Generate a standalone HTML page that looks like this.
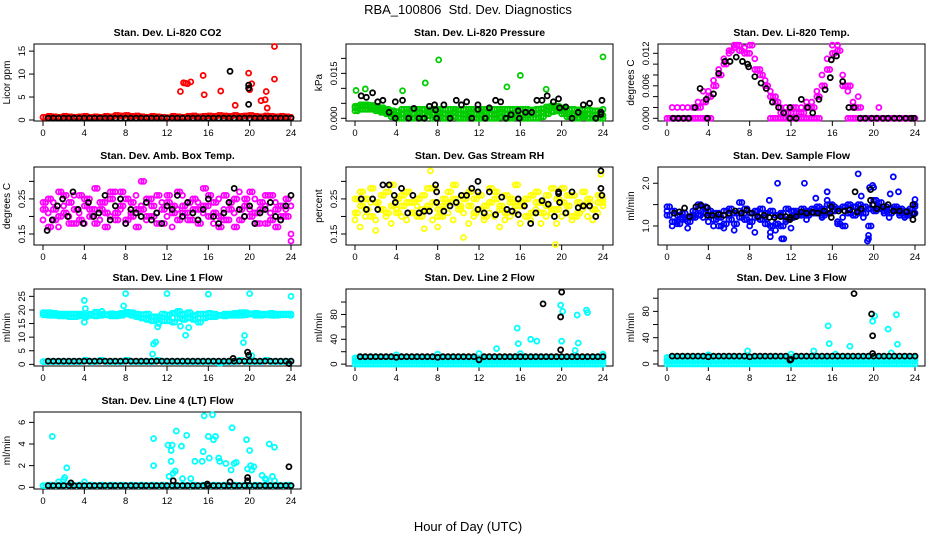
<!DOCTYPE html>
<html><head><meta charset="utf-8"><style>
html,body{margin:0;padding:0;background:#fff;}
svg{display:block;font-family:"Liberation Sans",Arial,sans-serif;}
</style></head><body>
<svg id="chart" width="936" height="540" viewBox="0 0 936 540" xmlns="http://www.w3.org/2000/svg">
<rect x="0" y="0" width="936" height="540" fill="#fff"/>
<text x="468" y="14" text-anchor="middle" font-size="13" style="white-space:pre">RBA_100806  Std. Dev. Diagnostics</text>
<text x="468" y="531" text-anchor="middle" font-size="13">Hour of Day (UTC)</text>
</svg>
<script>
const hours=[0,0.5,1,1.5,2,2.5,3,3.5,4,4.5,5,5.5,6,6.5,7,7.5,8,8.5,9,9.5,10,10.5,11,11.5,12,12.5,13,13.5,14,14.5,15,15.5,16,16.5,17,17.5,18,18.5,19,19.5,20,20.5,21,21.5,22,22.5,23,23.5,24];
const hoursB=[0.25,0.75,1.25,1.75,2.25,2.75,3.25,3.75,4.25,4.75,5.25,5.75,6.25,6.75,7.25,7.75,8.25,8.75,9.25,9.75,10.25,10.75,11.25,11.75,12.25,12.75,13.25,13.75,14.25,14.75,15.25,15.75,16.25,16.75,17.25,17.75,18.25,18.75,19.25,19.75,20.25,20.75,21.25,21.75,22.25,22.75,23.25,23.75];
const xTicks=[0,4,8,12,16,20,24];

// CO2
const co2Red=[0.6,0.8,0.7,0.6,0.8,0.7,0.6,0.7,0.8,0.6,0.7,0.6,0.8,0.7,1.0,0.9,1.0,0.8,0.9,0.7,0.6,0.8,0.7,0.6,0.5,0.8,0.7,0.6,0.8,0.9,0.7,0.8,0.9,0.8,1.0,0.9,0.8,1.0,0.8,0.9,1.0,0.8,0.7,0.9,0.8,0.7,0.8,0.7,0.6];
const co2Black=[null,0.4,0.4,0.4,0.4,0.4,0.4,0.4,0.4,0.4,0.4,0.4,0.4,0.4,0.4,0.4,0.4,0.4,0.4,0.4,0.4,0.4,0.4,0.4,0.4,0.4,0.4,0.4,0.4,0.4,0.4,0.4,0.4,0.4,0.4,0.4,0.4,0.4,0.4,0.4,0.4,0.4,0.4,0.4,0.4,0.4,0.4,0.4,0.4];
const co2RedOut=[[13.3,6.2],[13.6,8.1],[13.8,8],[14.0,7.9],[14.3,8.3],[15.5,9.7],[15.6,5.5],[17.2,6.3],[18.6,3.2],[19.9,10.2],[20.0,6.6],[20.2,7.9],[21.1,4.2],[21.5,4.4],[21.6,6.2],[21.7,2.6],[22.4,16],[22.4,8.9]];
const co2BlackOut=[[18.1,10.6],[19.9,7.6],[19.9,6.9],[19.9,3.4]];

// Pressure
const presUpper=[0.004,0.0045,0.0045,0.0043,0.004,0.0035,0.003,0.0025,0.0022,0.003,0.003,0.003,0.003,0.003,0.0028,0.003,0.003,0.003,0.003,0.003,0.0028,0.003,0.003,0.003,0.003,0.003,0.003,0.003,0.003,0.003,0.003,0.003,0.003,0.003,0.0028,0.003,0.0032,0.0038,0.0042,0.004,0.0035,0.003,0.003,0.0028,0.003,0.0028,0.0025,0.0025,0.003];
const presMid=[0.0035,0.004,0.004,0.0037,0.0033,0.0028,0.0022,0.0015,0.001,0.0015,0.002,0.0015,0.002,0.0015,0.002,0.0015,0.002,0.0015,0.001,0.002,0.0015,0.001,0.002,0.0015,0.001,0.002,0.0015,0.001,0.002,0.0015,0.001,0.002,0.0015,0.001,0.0015,0.0015,0.002,0.0028,0.0035,0.0033,0.0025,0.0015,0.001,0.0015,0.001,0.0015,0.001,0.0012,0.001];
const presLower=[0.0025,0.003,0.003,0.003,0.0025,0.002,0.0015,0.0005,0,0,0.0005,0,0.0005,0,0.0008,0,0.0005,0,0,0.0005,0,0,0.0005,0,0,0.0005,0,0,0.0003,0,0,0.0005,0,0,0,0,0.0005,0.0015,0.0022,0.0025,0.0015,0.0005,0,0,0.0005,0,0,0,0];
const presGreenOut=[[8.1,0.0195],[6.8,0.0118],[4.6,0.0092],[16,0.0143],[14.7,0.0105],[24,0.0205],[18.5,0.0097],[0.1,0.0093],[1,0.0098]];
const presBlack=[[0.6,0.0075],[1.1,0.007],[1.7,0.0085],[2.2,0.0055],[2.7,0.006],[3.3,0.002],[3.9,0.0055],[3.9,0],[4.6,0.006],[5.2,0],[5.7,0.0033],[6.2,0],[6.7,0],[7.2,0.004],[7.7,0.0045],[7.8,0.0028],[7.9,0],[8.6,0.0045],[9.2,0],[9.8,0.006],[10.3,0.0045],[10.8,0.0055],[11.3,0],[11.9,0.0045],[11.9,0.003],[12.6,0],[13,0.0035],[13.6,0.006],[14.1,0.0055],[14.6,0],[15.1,0.0012],[15.8,0.0025],[15.9,0],[16.5,0.002],[17.1,0.002],[17.6,0.006],[18.1,0.006],[18.6,0.0075],[19.2,0.0055],[19.7,0.0065],[19.8,0.0035],[20.4,0.0038],[21,0],[21.6,0.002],[22.1,0.0045],[22.7,0.005],[23.3,0],[23.8,0.0013],[23.8,0.002],[23.9,0.006]];

// Li-820 Temp
const tempMain=[null,0.002,0.002,0.002,0.002,null,0.003,0.005,0.005,0.007,0.009,0.011,0.012,0.013,0.0135,0.013,0.012,0.011,0.009,0.007,0.005,0.004,0.002,0.002,0.001,0.002,0.002,0.003,0.003,0.005,0.008,0.011,0.0135,0.0135,0.008,0.005,0.003,0.004,null,null,null,0.002,null,null,null,null,null,null,null];
const tempSpread=[null,null,null,null,null,0.002,0.002,0.003,0.004,0.006,0.008,0.01,0.0125,0.0135,0.0125,0.012,0.0135,0.009,0.008,0.006,0.004,0.003,0.001,0.001,0.002,0.001,0.001,0.002,0.002,0.004,0.006,0.009,0.012,0.0125,0.006,0.006,0.002,0.002,null,null,null,null,null,null,null,null,null,null,null];
const tempZero=[0,0,0,0,0,0,0,0,0,null,null,null,null,null,null,null,null,null,null,null,0,0,0,0,0,0,0,0,0,0,null,null,null,null,null,0,0,0,0,0,0,0,0,0,0,0,0,0,0];
const tempBlack=[[0.6,0],[1.1,0],[1.6,0],[2.1,0],[2.7,0.002],[3.2,0.0055],[3.8,0.0035],[3.9,0],[4.5,0.0045],[5.0,0.0083],[5.6,0.0105],[6.1,0.0105],[6.7,0.0113],[7.3,0.0105],[7.8,0.01],[7.9,0.0095],[8.5,0.0077],[9.1,0.0065],[9.6,0.0055],[10.2,0.003],[10.8,0.002],[11.3,0.001],[11.9,0.002],[11.9,0],[12.5,0],[13.0,0.0035],[13.6,0.002],[14.1,0.001],[14.7,0.0035],[15.3,0.0053],[15.8,0.0075],[15.9,0.0108],[16.4,0.0115],[17.0,0.0068],[17.6,0.002],[18.1,0.002],[18.7,0],[19.2,0],[19.8,0],[20.3,0],[20.9,0],[21.4,0],[22.0,0],[22.5,0],[23.1,0],[23.6,0],[23.9,0]];

// Amb box temp
const ambA=[.22,.25,.19,.27,.21,.24,.18,.26,.23,.20,.28,.22,.17,.25,.21,.27,.19,.24,.22,.30,.20,.23,.26,.18,.24,.21,.27,.23,.19,.25,.22,.28,.20,.24,.17,.26,.22,.25,.19,.23,.27,.21,.24,.18,.26,.22,.20,.25,.23];
const ambB=[.19,.21,.24,.17,.23,.20,.26,.21,.18,.25,.22,.19,.24,.20,.27,.22,.18,.21,.26,.23,.19,.25,.21,.24,.20,.17,.22,.26,.21,.19,.24,.21,.23,.18,.25,.22,.19,.21,.27,.20,.22,.25,.18,.23,.21,.24,.19,.22,.15];
const ambC=[.24,.17,.22,.20,.26,.18,.22,.19,.25,.22,.18,.24,.21,.27,.19,.23,.25,.20,.17,.22,.25,.20,.18,.22,.26,.23,.19,.21,.24,.22,.18,.23,.26,.21,.20,.19,.24,.17,.22,.25,.20,.18,.22,.26,.19,.17,.23,.20,.13];
const ambBlack=[[0.4,0.16],[0.9,0.19],[1.4,0.23],[1.9,0.25],[2.4,0.2],[2.9,0.27],[3.4,0.22],[3.9,0.18],[4.4,0.24],[4.9,0.2],[5.4,0.21],[6.0,0.26],[6.5,0.19],[7,0.23],[7.5,0.25],[8,0.18],[8.5,0.22],[9,0.21],[9.5,0.2],[10,0.24],[10.5,0.19],[11,0.21],[11.5,0.18],[12,0.23],[12.5,0.22],[13,0.26],[13.5,0.2],[14,0.24],[14.5,0.21],[15,0.19],[15.5,0.22],[16,0.25],[16.5,0.2],[17,0.18],[17.5,0.21],[18,0.24],[18.5,0.28],[19,0.22],[19.5,0.2],[20,0.23],[20.5,0.18],[21,0.21],[21.5,0.22],[22,0.24],[22.5,0.2],[23,0.19],[23.5,0.23],[24,0.26]];

// Gas stream RH
const rhA=[.25,.27,.22,.28,.24,.26,.21,.29,.25,.23,.27,.24,.20,.26,.23,.28,.22,.25,.24,.29,.23,.25,.27,.21,.26,.23,.28,.25,.22,.26,.24,.29,.23,.25,.21,.27,.24,.26,.22,.25,.28,.23,.26,.21,.27,.24,.22,.26,.25];
const rhB=[.21,.23,.25,.20,.24,.22,.27,.23,.21,.26,.24,.21,.25,.22,.28,.24,.20,.23,.27,.25,.22,.26,.23,.25,.22,.20,.24,.27,.23,.21,.25,.23,.24,.20,.26,.24,.21,.23,.28,.22,.24,.26,.20,.24,.23,.25,.22,.24,.24];
const rhC=[.19,.17,.2,.24,.19,.22,.2,.18,.22,.2,.19,.21,.23,.2,.22,.19,.17,.2,.21,.19,.23,.21,.18,.2,.22,.19,.21,.2,.23,.19,.2,.21,.18,.2,.19,.22,.18,.2,.21,.18,.2,.21,.19,.2,.22,.2,.19,.21,.23];
const rhOut=[[7.3,0.33],[10.5,0.14],[19.4,0.12],[23.8,0.32],[2,0.16],[6.7,0.165],[14,0.17]];
const rhBlack=[[0.6,0.25],[1.1,0.22],[1.7,0.25],[2.2,0.22],[2.7,0.29],[3.3,0.29],[3.8,0.26],[3.9,0.24],[4.5,0.28],[5.1,0.21],[5.6,0.26],[6.2,0.21],[6.7,0.215],[7.2,0.215],[7.8,0.29],[7.9,0.27],[7.9,0.24],[8.6,0.215],[9.2,0.23],[9.8,0.24],[10.3,0.26],[10.8,0.26],[11.3,0.28],[11.9,0.3],[11.9,0.27],[11.9,0.22],[12.5,0.21],[13,0.27],[13.6,0.205],[14.2,0.255],[14.7,0.22],[15.2,0.215],[15.8,0.25],[15.8,0.205],[16.4,0.23],[17,0.18],[17.5,0.21],[18.1,0.245],[18.7,0.235],[19.3,0.2],[19.7,0.265],[19.7,0.27],[19.8,0.24],[20.4,0.21],[21,0.27],[21.6,0.225],[22.1,0.23],[22.7,0.23],[23.3,0.2],[23.8,0.33],[23.8,0.28],[23.9,0.26]];

// Sample flow
const sfA=[1.45,1.35,1.25,1.3,1.2,1.35,1.5,1.45,1.35,1.3,1.2,1.35,1.4,1.3,1.55,1.4,1.3,1.35,1.4,1.3,1.35,1.25,1.3,1.4,1.35,1.3,1.4,1.35,1.4,1.45,1.4,1.5,1.45,1.4,1.45,1.5,1.45,1.5,1.45,1.4,1.6,1.55,1.45,1.4,1.45,1.4,1.35,1.4,1.45];
const sfB=[1.25,1.1,1.05,1.15,1.1,1.2,1.25,1.3,1.25,1.15,1.0,1.05,1.15,1.05,1.2,1.15,1.1,1.2,1.15,1.05,1.0,1.05,1.0,1.15,1.2,1.25,1.3,1.25,1.3,1.3,1.25,1.3,1.35,1.05,1.0,1.3,1.25,1.35,1.3,1.0,1.35,1.4,1.35,1.3,1.35,1.3,1.25,1.3,1.3];
const sfC=[1.35,1.0,1.1,1.2,0.95,1.25,1.4,1.2,1.1,1.0,1.3,0.95,1.25,0.9,1.35,1.3,1.0,0.85,1.3,1.2,0.85,0.9,1.25,1.1,0.95,1.35,1.25,1.15,1.3,1.35,1.2,1.6,1.5,1.1,1.2,1.4,1.35,1.3,1.2,0.7,1.5,1.45,1.3,1.2,1.4,1.25,1.2,1.25,1.5];
const sfOut=[[10.7,2.0],[13.3,2.0],[15.5,1.8],[14.4,1.65],[18.5,2.22],[18.8,1.7],[19.6,1.9],[19.9,1.95],[20,1.9],[21.9,2.15],[21.6,1.75],[22.4,1.8],[19.4,0.65],[19.5,0.78],[11.1,0.7],[11.3,0.7],[10.0,0.75],[9.9,1.6],[24,1.62]];
const sfBlack=[[0.7,1.3],[1.2,1.33],[1.7,1.42],[2.2,1.22],[2.8,1.45],[3.3,1.48],[3.9,1.43],[3.9,1.25],[4.4,1.25],[5,1.27],[5.5,1.25],[6,1.3],[6.6,1.35],[7.2,1.3],[7.7,1.37],[8.2,1.3],[8.8,1.22],[9.4,1.25],[9.9,1.2],[10.4,1.2],[11,1.22],[11.5,1.22],[11.9,1.2],[11.9,1.15],[12.5,1.22],[13,1.33],[13.5,1.3],[14.1,1.32],[14.6,1.3],[15.2,1.35],[15.8,1.3],[15.9,1.45],[15.9,1.2],[16.6,1.35],[17.2,1.35],[17.7,1.38],[18.2,1.8],[18.4,1.33],[18.8,1.4],[19.7,1.85],[19.7,1.6],[19.9,1.5],[20.3,1.4],[20.9,1.45],[21.4,1.5],[21.9,1.35],[22.5,1.35],[23.2,1.33],[23.8,1.5],[23.8,1.15],[23.9,1.28]];

// Line 1
const l1A=[19,19,18.8,18.5,18.5,18.5,18.5,18.5,18,18.5,19.2,18.5,18.3,18.6,18.5,18.8,19.2,19,18.5,18.3,18.5,17.5,17.5,18.5,18.2,18.8,19.5,18.5,19,18,18.5,18.5,18.8,18.5,18,18.5,18.5,18.8,19,19,18.5,18.8,18.5,18.5,18.8,18.5,18.5,18.5,18.5];
const l1B=[18.2,18,18,17.8,17.8,17.5,17.5,17.8,17.5,18,17.8,18,18.2,17.8,17.8,18,18.5,18,17.5,17,16.5,16,16.5,16,16,15.5,17,16.5,17,16.5,15.5,17,17.5,17.5,18,17.8,18,18,18,18.2,18.5,18,18,18.2,18,18,18.2,18.2,18];
const l1Low=[1,1,1,1,1,1,1,1,1.5,1,1,1.5,1,1,1,1,1.5,1,1,1,1,1,1.5,1,1,1,1,1,1,1,1,1,1,1,0.5,1,1,1,1.5,1,1,1,1,1.5,1,1,1,1,1];
const l1Black=[null,1.2,1.2,1.2,1.2,1.2,1.2,1.2,1.2,1.2,1.2,1.2,1.2,1.2,1.2,1.2,1.2,1.2,1.2,1.2,1.2,1.2,1.2,1.2,1.2,1.2,1.2,1.2,1.2,1.2,1.2,1.2,1.2,1.2,1.2,1.2,1.2,1.2,1.2,1.2,1.2,1.2,1.2,1.2,1.2,1.2,1.2,1.2,1.2];
const l1Out=[[4,23.5],[4.1,20.5],[4,15.5],[5.7,19.5],[7.8,21.5],[8,26],[12,26],[16,25.8],[20,26],[24,25],[10.7,7.5],[10.9,8.2],[10.6,3.8],[11.1,13.8],[11.2,15],[13.3,14],[14.1,13.5],[13.8,10.7],[19.4,8],[19.5,10.6],[20.2,3.2]];
const l1BlackOut=[[18.4,2.2],[19.8,4.5],[19.9,3.4],[23.8,0.3]];

// Line 2 & 3
const bandTop=[10,10,10,10,10,10,10,10,10,10,10,10,10,10,10,10,10,10,10,10,10,10,10,10,10,10,10,10,10,10,10,10,10,10,10,10,10,10,10,10,10,10,10,10,10,10,10,10,10];
const bandMid=[5,5,5,5,5,5,5,5,5,5,5,5,5,5,5,5,5,5,5,5,5,5,5,5,5,5,5,5,5,5,5,5,5,5,5,5,5,5,5,5,5,5,5,5,5,5,5,5,5];
const bandLow=[0,0,0,0,0,0,0,0,0,0,0,0,0,0,0,0,0,0,0,0,0,0,0,0,0,0,0,0,0,0,0,0,0,0,0,0,0,0,0,0,0,0,0,0,0,0,0,0,0];
const l2Black=[null,12,12,12,12,12,12,12,11,12,12,12,12,12,12,12,11,12,12,12,12,12,12,12,7,12,12,12,12,12,12,12,12,12,12,12,12,12,12,12,12,12,12,12,12,12,12,12,12];
const l2Out=[[15.7,58],[15.8,33],[16,17],[17,40],[13.7,25],[17.6,37],[19.9,95],[20,37],[20.1,85],[21.3,22],[21.5,79],[21.6,34],[22.4,87],[22.5,83],[24,16],[4,15],[8,16],[12,17]];
const l2BlackOut=[[18.2,97],[19.9,76],[19.9,23],[20,116]];
const l3Out=[[15.6,58],[15.7,31],[16.3,15],[17.7,27],[19.9,65],[20.1,73],[21.4,53],[21.7,17],[22.2,75],[22.3,30],[7.8,20],[14.2,20],[4,14],[12,15]];
const l3BlackOut=[[18.1,107],[19.8,76],[19.9,43],[19.9,16],[11.9,6]];

// Line 4
const l4Band=[0.15,0.2,0.15,0.2,0.15,0.2,0.15,0.2,0.15,0.2,0.15,0.2,0.15,0.2,0.15,0.2,0.15,0.2,0.15,0.2,0.15,0.2,0.15,0.2,0.15,0.2,0.15,0.2,0.15,0.2,0.15,0.2,0.15,0.2,0.15,0.2,0.15,0.2,0.15,0.2,0.15,0.2,0.15,0.2,0.15,0.2,0.15,0.2,0.15];
const l4Black=[null,0.15,0.15,0.15,0.15,0.15,0.15,0.15,0.15,0.15,0.15,0.15,0.15,0.15,0.15,0.15,0.15,0.15,0.15,0.15,0.15,0.15,0.15,0.15,0.15,0.15,0.15,0.15,0.15,0.15,0.15,0.15,0.15,0.15,0.15,0.15,0.15,0.15,0.15,0.15,0.15,0.15,0.15,0.15,0.15,0.15,0.15,0.15,0.15];
const l4Out=[[0.9,4.7],[2.3,1.8],[2.1,0.9],[2,0.7],[1.5,0.5],[4,0.5],[10.7,4.5],[10.7,2],[12.1,3.9],[12.4,3.4],[12.5,3.9],[12.4,2.4],[12.2,1],[12.6,1.3],[12.8,1.5],[12.9,5.2],[13.4,3.8],[13.9,4.8],[13.5,0.8],[14.7,2.4],[14.3,0.8],[15.4,2.4],[15.5,3.3],[15.6,6.6],[16,4.7],[16.1,2.7],[16.4,6.7],[16.5,4.4],[16.7,4.7],[17,2.7],[17.1,2.4],[17.7,2.2],[18.2,1.6],[18.3,5.5],[18.5,2.2],[18.7,2.3],[19.7,4.4],[19.8,1.7],[20,3.4],[20.1,2],[20.2,1.6],[20.4,1.9],[21.2,1.1],[21.5,0.8],[21.6,0.7],[21.9,4],[22.2,1],[22.4,3.7],[22.4,0.6]];
const l4BlackOut=[[2.7,0.4],[12.6,0.6],[15.9,0.3],[18.1,0.5],[19.8,0.9],[19.8,0.6],[23.8,1.9]];

const NS='http://www.w3.org/2000/svg';
const svg=document.getElementById('chart');
function el(tag,attrs,parent){const e=document.createElementNS(NS,tag);for(const k in attrs)e.setAttribute(k,attrs[k]);(parent||svg).appendChild(e);return e;}

const BW=267;
function makePanel(left,top,h,ymin,ymax,yTicks,yLabels,ylab,title,name){
  const g=el('g',{});
  
  
  const p={left,top,h,ymin,ymax,g,
    x:t=>left+9+t*(248/24),
    y:v=>top+h-(v-ymin)/(ymax-ymin)*h};
  const tt=el('text',{x:left+BW/2,y:top-8,'text-anchor':'middle','font-size':'10.5','font-weight':'bold'},g);
  tt.textContent=title;
  
  
  const box=el('rect',{x:left,y:top,width:BW,height:h,fill:'none',stroke:'#000','stroke-width':1},g);
  
  
  const xa=el('g',{},g);
  
  
  el('line',{x1:p.x(0),x2:p.x(24),y1:top+h,y2:top+h,stroke:'#000'},xa);
  xTicks.forEach(t=>{
    el('line',{x1:p.x(t),x2:p.x(t),y1:top+h,y2:top+h+5,stroke:'#000'},xa);
    const lb=el('text',{x:p.x(t),y:top+h+15,'text-anchor':'middle','font-size':'9.5'},xa);
    lb.textContent=t;
    
    
  });
  const ya=el('g',{},g);
  
  
  el('line',{x1:left,x2:left,y1:p.y(yTicks[0]),y2:p.y(yTicks[yTicks.length-1]),stroke:'#000'},ya);
  yTicks.forEach(v=>{el('line',{x1:left-5,x2:left,y1:p.y(v),y2:p.y(v),stroke:'#000'},ya);});
  yLabels.forEach(v=>{
    const yy=p.y(v);
    const lb=el('text',{x:left-9,y:yy,'text-anchor':'middle','font-size':'9.5',transform:`rotate(-90 ${left-9} ${yy})`},ya);
    lb.textContent=v.label;
    
    
  });
  const yl=el('text',{x:left-24,y:top+h/2,'text-anchor':'middle','font-size':'10',transform:`rotate(-90 ${left-24} ${top+h/2})`},g);
  yl.textContent=ylab;
  
  
  return p;
}
function lab(v,s){const n=new Number(v);n.label=s;return n;}
function dot(p,t,v,color,sname){
  if(v===null||v===undefined||t===undefined)return;
  const c=el('circle',{cx:p.x(t),cy:p.y(v),r:2.5,fill:'none',stroke:color,'stroke-width':1.8},p.g);
  
  
}
function series(p,vals,color,sname,tArr){const ts=tArr||hours;vals.forEach((v,i)=>dot(p,ts[i],v,color,sname));}
function dense(p,vals,color,sname){series(p,vals,color,sname,hours);series(p,vals,color,sname,hoursB);}
function pairs(p,arr,color,sname){arr.forEach(d=>dot(p,d[0],d[1],color,sname));}

const RED='#ff0000',GRN='#00cc00',MAG='#ff00ff',YEL='#ffff00',BLU='#0000ff',CYN='#00ffff',BLK='#000';
const C1=34,C2=346,C3=658,R1=44,R2=167,R3=289,R4=412,H=77;

let p=makePanel(C1,R1,H,-0.22,16.55,[0,5,10,15],[lab(0,'0'),lab(5,'5'),lab(10,'10'),lab(15,'15')],'Licor ppm','Stan. Dev. Li-820 CO2','co2');
dense(p,co2Red,RED,'co2-point');pairs(p,co2RedOut,RED,'co2-point');series(p,co2Black,BLK,'co2-black-point');pairs(p,co2BlackOut,BLK,'co2-black-point');

p=makePanel(C2,R1,H,-0.0009,0.0248,[0,0.005,0.01,0.015,0.02],[lab(0,'0.000'),lab(0.015,'0.015')],'kPa','Stan. Dev. Li-820 Pressure','pressure');
dense(p,presUpper,GRN,'pressure-point');dense(p,presMid,GRN,'pressure-point');dense(p,presLower,GRN,'pressure-point');pairs(p,presGreenOut,GRN,'pressure-point');pairs(p,presBlack,BLK,'pressure-black-point');

p=makePanel(C3,R1,H,-0.0005,0.01372,[0,0.002,0.004,0.006,0.008,0.01,0.012],[lab(0,'0.000'),lab(0.006,'0.006'),lab(0.012,'0.012')],'degrees C','Stan. Dev. Li-820 Temp.','li820-temp');
series(p,tempMain,MAG,'temp-point');series(p,tempSpread,MAG,'temp-point');dense(p,tempZero,MAG,'temp-point');series(p,tempSpread,MAG,'temp-point',hoursB);pairs(p,tempBlack,BLK,'temp-black-point');

p=makePanel(C1,R2,78,0.1186,0.341,[0.15,0.2,0.25,0.3],[lab(0.15,'0.15'),lab(0.25,'0.25')],'degrees C','Stan. Dev. Amb. Box Temp.','amb-temp');
dense(p,ambA,MAG,'amb-point');series(p,ambB,MAG,'amb-point');series(p,ambC,MAG,'amb-point',hoursB);series(p,ambC,MAG,'amb-point');pairs(p,ambBlack,BLK,'amb-black-point');

p=makePanel(C2,R2,78,0.1186,0.341,[0.15,0.2,0.25,0.3],[lab(0.15,'0.15'),lab(0.25,'0.25')],'percent','Stan. Dev. Gas Stream RH','rh');
dense(p,rhA,YEL,'rh-point');dense(p,rhB,YEL,'rh-point');series(p,rhC,YEL,'rh-point');pairs(p,rhOut,YEL,'rh-point');pairs(p,rhBlack,BLK,'rh-black-point');

p=makePanel(C3,R2,78,0.555,2.38,[1,1.5,2],[lab(1,'1.0'),lab(2,'2.0')],'ml/min','Stan. Dev. Sample Flow','sample-flow');
dense(p,sfA,BLU,'sf-point');dense(p,sfB,BLU,'sf-point');series(p,sfC,BLU,'sf-point');pairs(p,sfOut,BLU,'sf-point');pairs(p,sfBlack,BLK,'sf-black-point');

p=makePanel(C1,R3,H,-0.6,27.7,[0,5,10,15,20,25],[lab(0,'0'),lab(5,'5'),lab(10,'10'),lab(15,'15'),lab(20,'20'),lab(25,'25')],'ml/min','Stan. Dev. Line 1 Flow','line1');
dense(p,l1A,CYN,'line1-point');dense(p,l1B,CYN,'line1-point');dense(p,l1Low,CYN,'line1-point');pairs(p,l1Out,CYN,'line1-point');series(p,l1Black,BLK,'line1-black-point');pairs(p,l1BlackOut,BLK,'line1-black-point');

p=makePanel(C2,R3,H,-3,121,[0,20,40,60,80,100],[lab(0,'0'),lab(40,'40'),lab(80,'80')],'ml/min','Stan. Dev. Line 2 Flow','line2');
dense(p,bandTop,CYN,'line2-point');dense(p,bandMid,CYN,'line2-point');dense(p,bandLow,CYN,'line2-point');pairs(p,l2Out,CYN,'line2-point');series(p,l2Black,BLK,'line2-black-point');pairs(p,l2BlackOut,BLK,'line2-black-point');

p=makePanel(C3,R3,H,-3,114,[0,20,40,60,80,100],[lab(0,'0'),lab(40,'40'),lab(80,'80')],'ml/min','Stan. Dev. Line 3 Flow','line3');
dense(p,bandTop,CYN,'line3-point');dense(p,bandMid,CYN,'line3-point');dense(p,bandLow,CYN,'line3-point');pairs(p,l3Out,CYN,'line3-point');series(p,l2Black,BLK,'line3-black-point');pairs(p,l3BlackOut,BLK,'line3-black-point');

p=makePanel(C1,R4,H,-0.16,6.96,[0,2,4,6],[lab(0,'0'),lab(2,'2'),lab(4,'4'),lab(6,'6')],'ml/min','Stan. Dev. Line 4 (LT) Flow','line4');
dense(p,l4Band,CYN,'line4-point');pairs(p,l4Out,CYN,'line4-point');series(p,l4Black,BLK,'line4-black-point');pairs(p,l4BlackOut,BLK,'line4-black-point');
</script>
</body></html>
